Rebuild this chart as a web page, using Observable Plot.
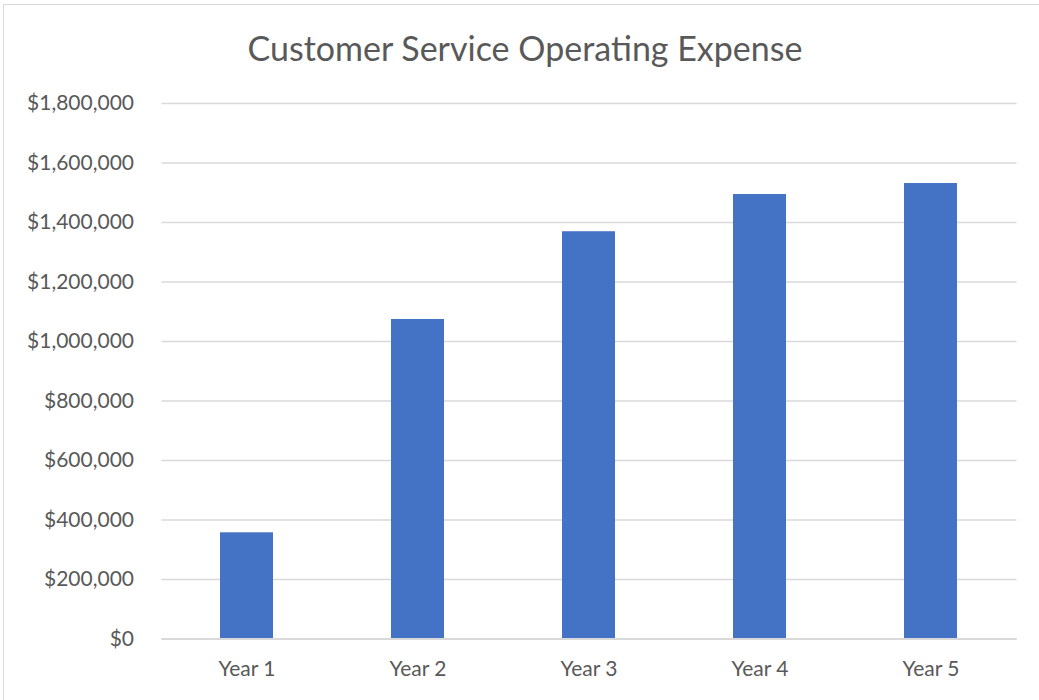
<!DOCTYPE html>
<html>
<head>
<meta charset="utf-8">
<script src="https://cdn.jsdelivr.net/npm/d3@7"></script>
<script src="https://cdn.jsdelivr.net/npm/@observablehq/plot@0.6"></script>
<style>
  html, body { margin: 0; padding: 0; background: #fff; }
  #wrap { position: relative; width: 1039px; height: 700px; overflow: hidden; font-family: Lato, "Open Sans", sans-serif; }
  #frame { position: absolute; left: 3px; top: 4px; width: 1040px; height: 700px; border: 1px solid #d9d9d9; box-sizing: border-box; }
  #title { position: absolute; left: 0; width: 1050px; top: 27px; text-align: center; font-size: 34px; color: #595959; font-weight: 400; }
  #chart { position: absolute; left: 0; top: 0; }
</style>
</head>
<body>
<div id="wrap">
  <div id="frame"></div>
  <div id="title">Customer Service Operating Expense</div>
  <div id="chart"></div>
</div>
<script>
const categories = ["Year 1", "Year 2", "Year 3", "Year 4", "Year 5"];
const values = [357000, 1074000, 1369000, 1494000, 1531000];
const yTicks = [0, 200000, 400000, 600000, 800000, 1000000, 1200000, 1400000, 1600000, 1800000];

const data = categories.map((c, i) => ({ year: c, value: values[i] }));
const fmt = d => "$" + d3.format(",")(d);

const chart = Plot.plot({
  width: 1039,
  height: 700,
  marginTop: 103,
  marginBottom: 61.5,
  marginLeft: 161.5,
  marginRight: 22.5,
  style: { fontFamily: "Lato, 'Open Sans', sans-serif", fontSize: "21px", color: "#595959", background: "transparent" },
  x: { domain: categories, paddingInner: 0.69, paddingOuter: 0.345, label: null },
  y: { domain: [0, 1800000], ticks: yTicks, label: null },
  marks: [
    Plot.gridY(yTicks, { stroke: "#d9d9d9", strokeOpacity: 1, strokeWidth: 1.5 }),
    Plot.barY(data, { x: "year", y: "value", fill: "#4472c4", inset: 0 }),
    Plot.ruleY([0], { stroke: "#d9d9d9", strokeWidth: 2 }),
    Plot.axisY(yTicks, { tickSize: 0, tickPadding: 28, tickFormat: fmt, fill: "#595959", fontSize: 21 }),
    Plot.axisX({ tickSize: 0, tickPadding: 22, fill: "#595959", fontSize: 21 })
  ]
});
document.getElementById("chart").appendChild(chart);
</script>
</body>
</html>
